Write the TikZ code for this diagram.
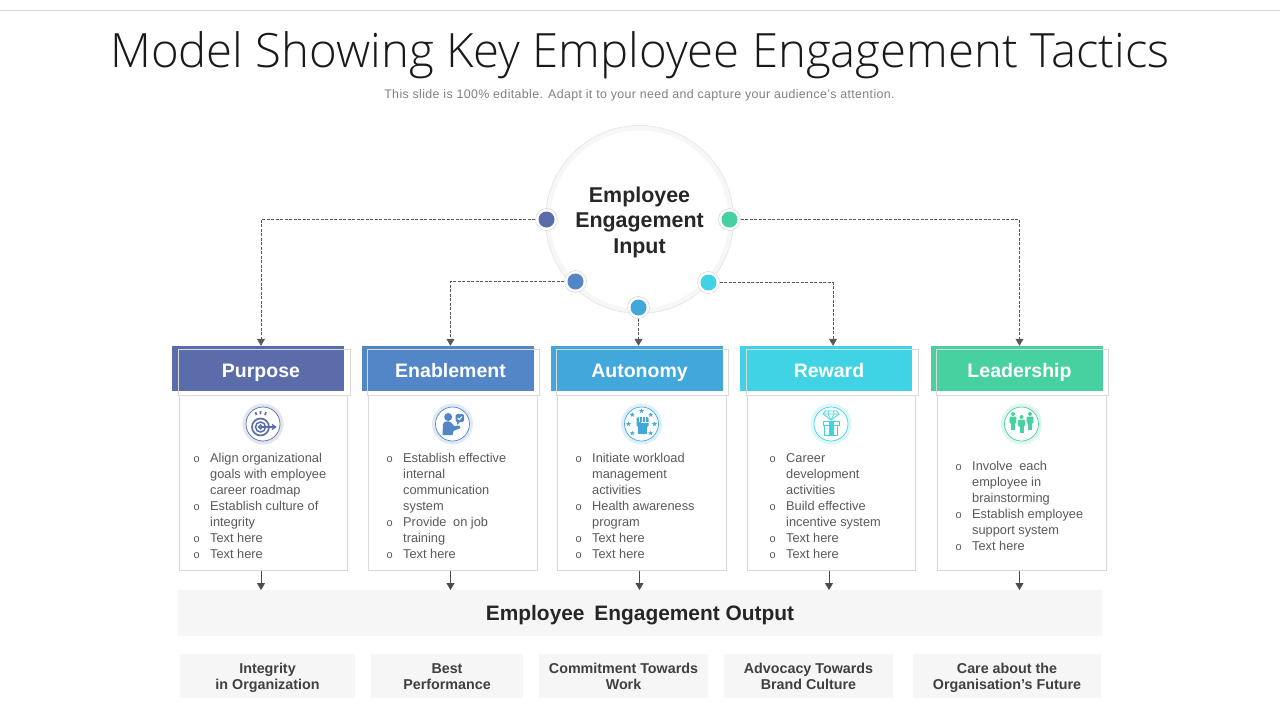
\documentclass[tikz,border=0pt]{standalone}
\usepackage{fontspec}
\setmainfont{Liberation Sans}
\newfontfamily\titlefont{Open Sans Light}
\usetikzlibrary{arrows.meta,shapes.geometric}
\definecolor{cpurpose}{HTML}{5A6DAA}
\definecolor{cenable}{HTML}{5386C6}
\definecolor{cauto}{HTML}{42A8DC}
\definecolor{creward}{HTML}{40D3E6}
\definecolor{clead}{HTML}{48D1A0}
\definecolor{linegrey}{HTML}{D9D9D9}
\definecolor{softgrey}{HTML}{F6F6F6}
\newcommand{\bul}{\llap{{\fontsize{11}{11}\selectfont o}\hspace{10.5pt}}}
\newcommand{\topstrut}{\rule{0pt}{1.12em}}
\newcommand{\botstrut}{\rule[-.4em]{0pt}{.4em}}
\newcommand{\twolines}[2]{\topstrut #1\\#2\botstrut}
\tikzset{
  evenlines/.style = {execute at begin node=\topstrut, execute at end node=\botstrut},
  hdrfill/.style = {fill=#1, minimum width=172pt, minimum height=45pt, inner sep=0pt},
  hdrline/.style = {draw=linegrey, minimum width=172pt, minimum height=46pt, inner sep=0pt},
  hdrtext/.style = {evenlines, text=white, font=\fontsize{19.5}{22}\selectfont\bfseries,
    minimum width=172pt, minimum height=48pt, inner sep=0pt},
  bodybox/.style = {draw=linegrey, line width=0.9pt, minimum width=168.5pt, minimum height=175.5pt, inner sep=0pt},
  bullets/.style = {align=left, inner sep=0pt, text=black!65,
    font=\fontsize{12.8}{16}\selectfont},
  dot/.style = {circle, fill=white, draw=linegrey, line width=0.6pt, minimum size=22pt, inner sep=0pt,
    path picture={\fill[#1] (path picture bounding box.center) circle (8pt);}},
  link/.style = {->, >={Triangle[length=7pt,width=8pt]}, dash pattern=on 3pt off 1.5pt,
    draw=black!65, line width=0.8pt},
  outlink/.style = {->, >={Triangle[length=7pt,width=8pt]}, draw=black!70, line width=0.8pt},
  graybox/.style = {fill=softgrey, inner sep=0pt, align=center},
  outbox/.style = {graybox, minimum height=44pt, text=black!75,
    font=\fontsize{14.3}{16}\selectfont\bfseries},
  badge/.style = {circle, draw=#1, fill=white, line width=0.7pt, minimum size=34pt, inner sep=0pt},
}
\tikzset{
  pics/targeticon/.style = {code={
    \draw[#1, line width=1.7pt] (-2.5,3) circle (8.5pt);
    \draw[#1, line width=1.5pt] (-2.5,3) circle (5pt);
    \draw[#1, line width=1.5pt] (-2.5,3) circle (1.8pt);
    \draw[#1, line width=1.3pt] (-2.5,3) -- (12.5,3);
    \draw[#1, line width=1.3pt] (9,0.5) -- (12.5,3) -- (9,5.5);
    \draw[#1, line width=1.6pt] (-7.5,-12) -- (-6.5,-9) (-2.5,-13) -- (-2.5,-10) (3,-12) -- (2,-9);
  }},
  pics/personicon/.style = {code={
    \fill[#1] (-4.3,-7) circle (4pt);
    \fill[#1] (-10,11) -- (-9.5,0) .. controls (-8.5,-3.5) and (-2,-3.5) .. (-0.5,-0.5)
      -- (1.5,2) -- (7,1.5) -- (8,4) -- (1,7) -- (0,11) -- cycle;
    \fill[#1, rounded corners=1.5pt] (3,-10) rectangle (11.5,-2);
    \fill[#1] (4,-3) -- (5,1) -- (8,-3) -- cycle;
    \draw[white, line width=1pt] (5.2,-6) -- (6.8,-4.4) -- (9.4,-7.4);
  }},
  pics/fisticon/.style = {code={
    \fill[#1, rounded corners=1.5pt] (-5,-7) rectangle (7,3);
    \fill[#1] (-3.5,3) rectangle (5,10);
    \draw[white, line width=0.7pt] (-2,-7) -- (-2,-2) (1,-7) -- (1,-2) (4,-7) -- (4,-2) (-0.5,-2) -- (7,-2);
    \foreach \ang in {0,45,90,135,180,225,315}
      \node[star, star points=5, star point ratio=2.3, fill=#1, minimum size=5pt, inner sep=0pt] (s\ang) at (\ang:13pt) {};
  }},
  pics/gifticon/.style = {code={
    \draw[#1, line width=0.8pt] (-5.5,-13) -- (5.5,-13) -- (8,-10) -- (0,-4) -- (-8,-10) -- cycle;
    \draw[#1, line width=0.6pt] (-8,-10) -- (8,-10) (-2.5,-13) -- (-3,-10) -- (0,-4) -- (3,-10) -- (2.5,-13);
    \draw[#1, line width=0.9pt] (-8,-3) rectangle (8,1.5);
    \draw[#1, line width=0.9pt] (-6.5,1.5) rectangle (6.5,11);
    \fill[#1] (-2.5,-3) rectangle (2.5,11);
  }},
  pics/teamicon/.style = {code={
    \foreach \xx/\yy in {-8.5/-2,0/1,8.5/-2} {
      \fill[#1] (\xx,\yy-8) circle (2pt);
      \fill[#1, rounded corners=1pt] (\xx-3.3,\yy-5.5) rectangle (\xx+3.3,\yy+1.5);
      \fill[#1] (\xx-2,\yy+1) rectangle (\xx+2,\yy+7.5);
    }
  }},
}
\begin{document}
\begin{tikzpicture}[x=1pt,y=-1pt]
\useasboundingbox (0,0) rectangle (1280,720);
\draw[linegrey, line width=0.7pt] (0,10.5) -- (1280,10.5);

\node (title) at (640,55) {\titlefont\fontsize{47.3}{50}\selectfont\color{black!90}Model Showing Key Employee Engagement Tactics};
\node (subtitle) at (639.5,95.5) [text=black!50, font=\fontsize{12.4}{15}\selectfont] {\addfontfeature{LetterSpace=3}This slide is 100\% editable. Adapt it to your need and capture your audience's attention.};

% centre circle
\node (ring) at (639.5,219.5) [circle, draw=black!9, fill=black!3, line width=0.8pt, minimum size=188pt, inner sep=0pt] {};
\node (disc) at (639.5,219.5) [circle, fill=white, minimum size=178pt, inner sep=0pt] {};
\node (input) at (639.5,222) [inner sep=0pt, align=center,
  text=black!85, font=\fontsize{21.4}{25.5}\selectfont\bfseries] {Employee\\Engagement\\Input};

\node[dot=cpurpose] (d1) at (546.5,219.5) {};
\node[dot=cenable] (d2) at (575.5,281.5) {};
\node[dot=cauto] (d3) at (638.5,307.5) {};
\node[dot=creward] (d4) at (708.5,282.5) {};
\node[dot=clead] (d5) at (729.5,219.5) {};

% five columns
\foreach \nm/\xx/\col/\ttl/\ico in {
  1/261/cpurpose/Purpose/targeticon,
  2/450.5/cenable/Enablement/personicon,
  3/639.5/cauto/Autonomy/fisticon,
  4/829/creward/Reward/gifticon,
  5/1019.5/clead/Leadership/teamicon} {
  \node[bodybox] (body\nm) at (\xx+2.5,483) {};
  \node[hdrfill=\col] (hf\nm) at (\xx-3,368.5) {};
  \node[hdrline] (hl\nm) at (\xx+3,372) {};
  \node[hdrtext] (hdr\nm) at (\xx,370) {\ttl};
  \node[circle, fill=\col!18, minimum size=41pt, inner sep=0pt] (halo\nm) at (\xx+2,424) {};
  \node[badge=\col] (icon\nm) at (\xx+2,424) {};
  \pic at (\xx+2,424) {\ico=\col};
  \coordinate (out\nm) at (\xx,590);
  \coordinate (from\nm) at (\xx,571);
  \draw[outlink] (from\nm) -- (out\nm);
}

\node[bullets, anchor=north west] (list1) at (210,453) {\bul Align organizational\\goals with employee\\career roadmap\\\bul Establish culture of\\integrity\\\bul Text here\\\bul Text here};
\node[bullets, anchor=north west] (list2) at (403,453) {\bul Establish effective\\internal\\communication\\system\\\bul Provide\hspace{3pt} on job\\training\\\bul Text here};
\node[bullets, anchor=north west] (list3) at (592,453) {\bul Initiate workload\\management\\activities\\\bul Health awareness\\program\\\bul Text here\\\bul Text here};
\node[bullets, anchor=north west] (list4) at (786,453) {\bul Career\\development\\activities\\\bul Build effective\\incentive system\\\bul Text here\\\bul Text here};
\node[bullets, anchor=north west] (list5) at (972,461) {\bul Involve\hspace{3pt} each\\employee in\\brainstorming\\\bul Establish employee\\support system\\\bul Text here};

% dashed links
\draw[link] (d1) -| (hdr1.north);
\draw[link] (d2) -| (hdr2.north);
\draw[link] (d3) -- (d3 |- hdr3.north);
\draw[link] (d4) -| ([xshift=4pt]hdr4.north);
\draw[link] (d5) -| (hdr5.north);

% output
\node[graybox, evenlines, minimum width=924pt, minimum height=46pt, text=black!85,
  font=\fontsize{20.9}{24}\selectfont\bfseries] (output) at (640,613) {Employee\hspace{4pt} Engagement Output};
\node[outbox, minimum width=175pt] (o1) at (267.5,676) {\twolines{Integrity}{in Organization}};
\node[outbox, minimum width=152pt] (o2) at (447,676) {\twolines{Best}{Performance}};
\node[outbox, minimum width=169pt] (o3) at (623.5,676) {\twolines{Commitment Towards}{Work}};
\node[outbox, minimum width=169pt] (o4) at (808.5,676) {\twolines{Advocacy Towards}{Brand Culture}};
\node[outbox, minimum width=188pt] (o5) at (1007,676) {\twolines{Care about the}{Organisation's Future}};
\end{tikzpicture}
\end{document}
